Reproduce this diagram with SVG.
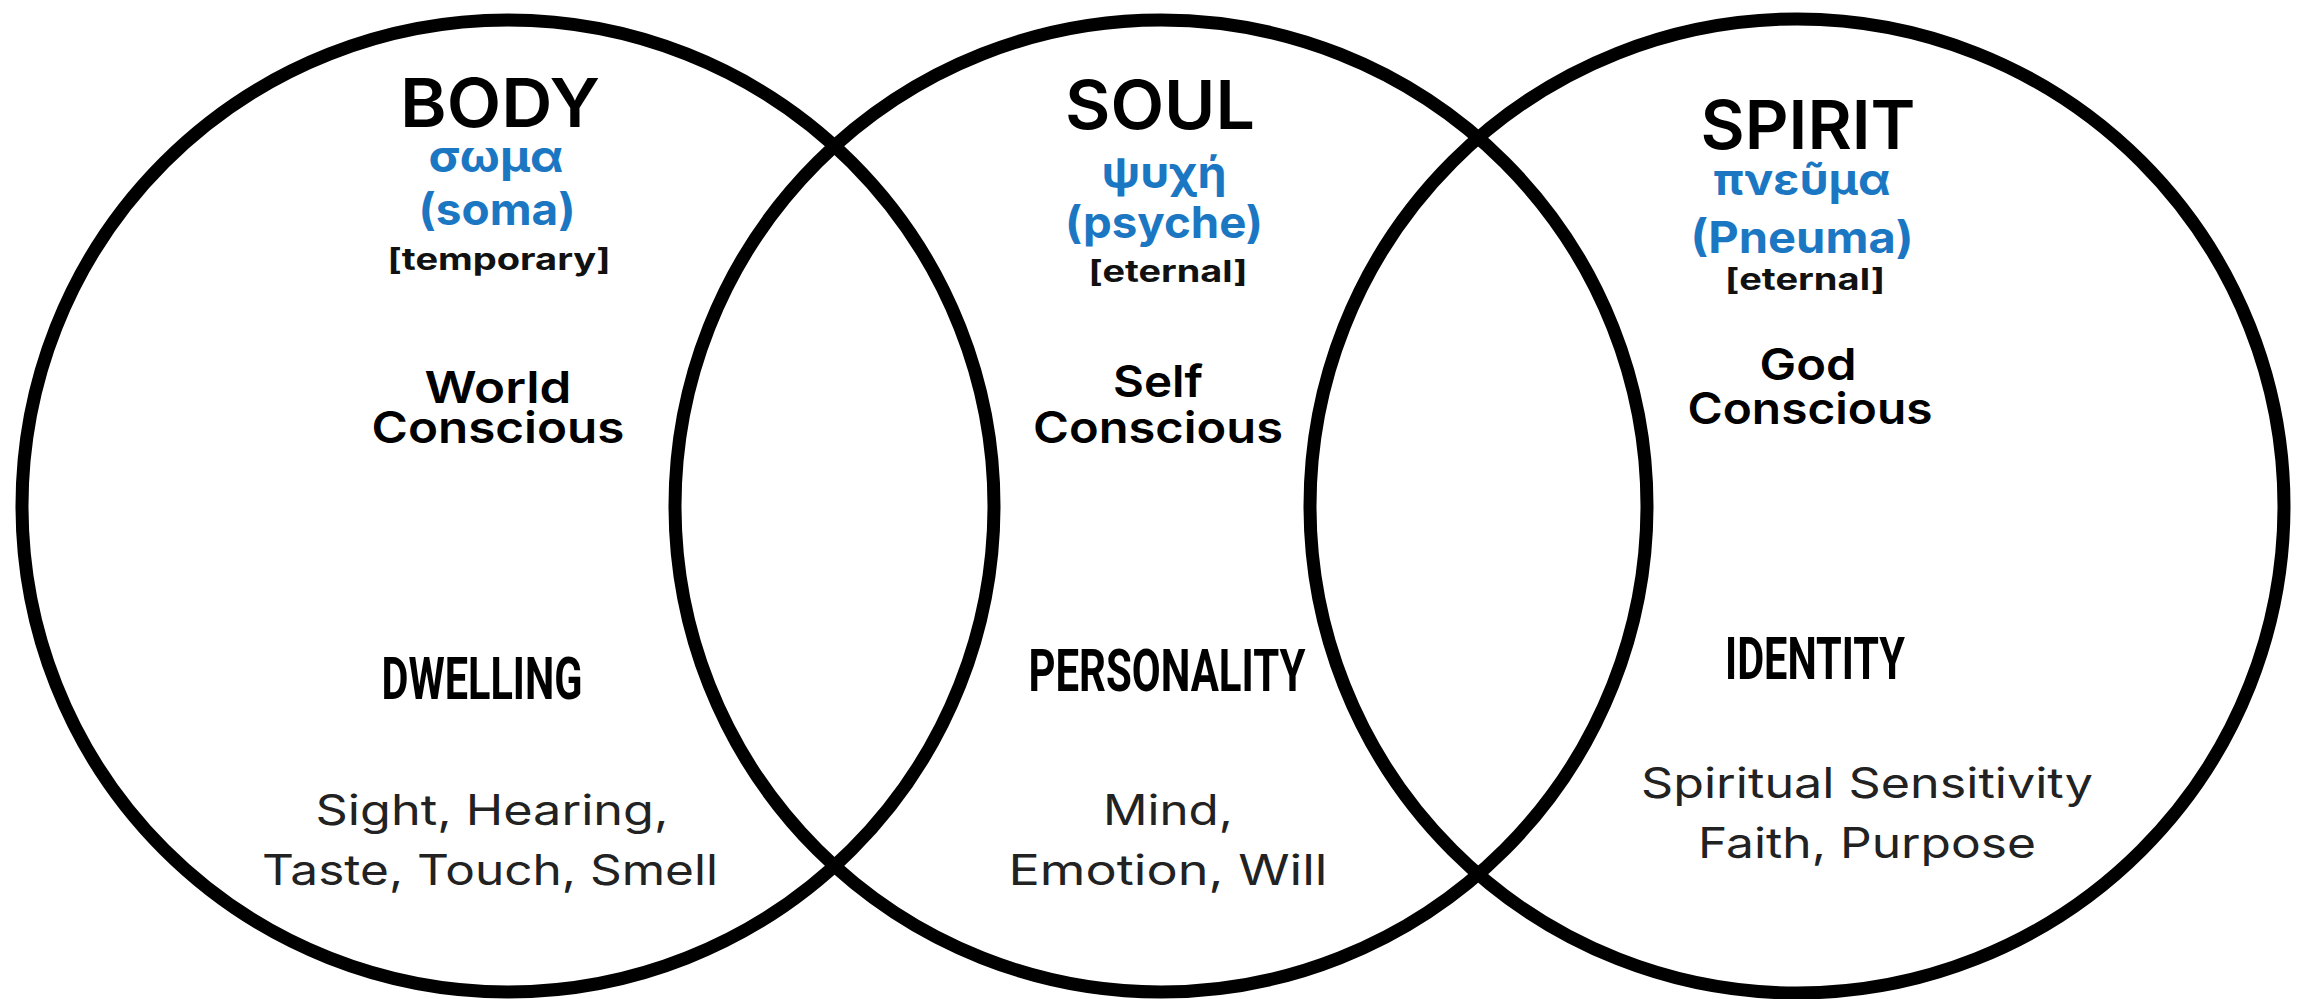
<svg xmlns="http://www.w3.org/2000/svg" width="2302" height="999" viewBox="0 0 2302 999">
<style>
.c{fill:none;stroke:#000;stroke-width:13}
text{text-anchor:middle;font-family:Inter,"Noto Sans",sans-serif}
.t{font-size:68px;font-weight:600;fill:#000}
.g{font-size:44px;font-weight:700;fill:#1c77c3}
.b{font-size:30px;font-weight:700;fill:#111}
.m{font-size:44px;font-weight:600;fill:#000}
.h{font-family:Roboto,"Liberation Sans",sans-serif;font-size:60px;font-weight:700;fill:#000}
.s{font-size:42px;font-weight:400;fill:#222}
</style>
<rect width="2302" height="999" fill="#fff"/>
<g id="connectors"></g>
<g id="body">
<circle class="c" cx="508" cy="506" r="486"/>
<text class="t" x="500" y="127" textLength="200" lengthAdjust="spacingAndGlyphs">BODY</text>
<text class="g" x="496" y="172" textLength="135" lengthAdjust="spacingAndGlyphs">σωμα</text>
<text class="g" x="497" y="225" textLength="157" lengthAdjust="spacingAndGlyphs">(soma)</text>
<text class="b" x="499" y="270" textLength="223" lengthAdjust="spacingAndGlyphs">[temporary]</text>
<text class="m" x="498" y="403" textLength="147" lengthAdjust="spacingAndGlyphs">World</text>
<text class="m" x="498" y="443" textLength="253" lengthAdjust="spacingAndGlyphs">Conscious</text>
<text class="h" x="482" y="699" textLength="201" lengthAdjust="spacingAndGlyphs">DWELLING</text>
<text class="s" x="492" y="825" textLength="353" lengthAdjust="spacingAndGlyphs">Sight, Hearing,</text>
<text class="s" x="490" y="885" textLength="456" lengthAdjust="spacingAndGlyphs">Taste, Touch, Smell</text>
</g>
<g id="soul">
<circle class="c" cx="1161" cy="506" r="486"/>
<text class="t" x="1160" y="129" textLength="190" lengthAdjust="spacingAndGlyphs">SOUL</text>
<text class="g" x="1164" y="188" textLength="125" lengthAdjust="spacingAndGlyphs">ψυχή</text>
<text class="g" x="1164" y="238" textLength="198" lengthAdjust="spacingAndGlyphs">(psyche)</text>
<text class="b" x="1168" y="282" textLength="159" lengthAdjust="spacingAndGlyphs">[eternal]</text>
<text class="m" x="1158" y="397" textLength="90" lengthAdjust="spacingAndGlyphs">Self</text>
<text class="m" x="1158" y="443" textLength="250" lengthAdjust="spacingAndGlyphs">Conscious</text>
<text class="h" x="1167" y="691" textLength="277" lengthAdjust="spacingAndGlyphs">PERSONALITY</text>
<text class="s" x="1168" y="825" textLength="130" lengthAdjust="spacingAndGlyphs">Mind,</text>
<text class="s" x="1168" y="885" textLength="319" lengthAdjust="spacingAndGlyphs">Emotion, Will</text>
</g>
<g id="spirit">
<circle class="c" cx="1797" cy="506" r="487"/>
<text class="t" x="1808" y="149" textLength="215" lengthAdjust="spacingAndGlyphs">SPIRIT</text>
<text class="g" x="1802" y="195" textLength="177" lengthAdjust="spacingAndGlyphs">πνεῦμα</text>
<text class="g" x="1802" y="253" textLength="223" lengthAdjust="spacingAndGlyphs">(Pneuma)</text>
<text class="b" x="1805" y="290" textLength="160" lengthAdjust="spacingAndGlyphs">[eternal]</text>
<text class="m" x="1808" y="380" textLength="97" lengthAdjust="spacingAndGlyphs">God</text>
<text class="m" x="1810" y="424" textLength="245" lengthAdjust="spacingAndGlyphs">Conscious</text>
<text class="h" x="1815" y="679" textLength="180" lengthAdjust="spacingAndGlyphs">IDENTITY</text>
<text class="s" x="1867" y="798" textLength="452" lengthAdjust="spacingAndGlyphs">Spiritual Sensitivity</text>
<text class="s" x="1867" y="858" textLength="338" lengthAdjust="spacingAndGlyphs">Faith, Purpose</text>
</g>
</svg>
